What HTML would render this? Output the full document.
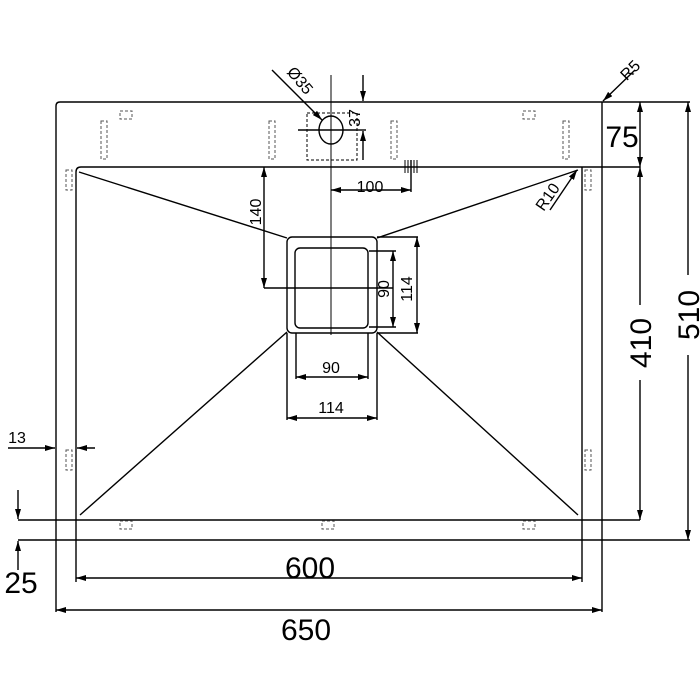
<!DOCTYPE html>
<html><head><style>body{margin:0;background:#fff}svg{display:block}</style></head><body>
<svg width="700" height="700" viewBox="0 0 700 700" xmlns="http://www.w3.org/2000/svg" font-family="Liberation Sans, sans-serif">
<defs>
<marker id="a" viewBox="0 0 10 6" refX="10" refY="3" markerWidth="10" markerHeight="6" orient="auto-start-reverse" markerUnits="userSpaceOnUse"><path d="M0,0L10,3L0,6z" fill="#000"/></marker>
</defs>
<g stroke="#000" fill="none" stroke-width="1.4">
<path d="M56,612V106Q56,102 60,102H690"/>
<line x1="602" y1="102" x2="602" y2="612"/>
<line x1="18" y1="540" x2="690" y2="540"/>
<path d="M76,582V172Q76,167 81,167H640"/>
<line x1="582" y1="167" x2="582" y2="582"/>
<line x1="18" y1="520" x2="640" y2="520"/>
<line x1="79" y1="172" x2="287" y2="238"/>
<line x1="578" y1="170" x2="377" y2="238"/>
<line x1="287" y1="332" x2="80" y2="515"/>
<line x1="377" y1="332" x2="578" y2="515"/>
<rect x="287" y="237" width="90" height="96" rx="5"/>
<rect x="295" y="248" width="73" height="80" rx="5"/>
<line x1="331" y1="75" x2="331" y2="335" stroke-width="1"/>
<line x1="264" y1="167" x2="264" y2="288" marker-start="url(#a)" marker-end="url(#a)"/>
<line x1="264" y1="288" x2="393" y2="288"/>
<line x1="369" y1="251" x2="396" y2="251"/>
<line x1="393" y1="251" x2="393" y2="327" marker-start="url(#a)" marker-end="url(#a)"/>
<line x1="369" y1="327" x2="396" y2="327"/>
<line x1="377" y1="237" x2="418" y2="237"/>
<line x1="417" y1="237" x2="417" y2="333" marker-start="url(#a)" marker-end="url(#a)"/>
<line x1="377" y1="333" x2="418" y2="333"/>
<line x1="296" y1="333" x2="296" y2="379"/><line x1="368" y1="333" x2="368" y2="379"/>
<line x1="296" y1="377" x2="368" y2="377" marker-start="url(#a)" marker-end="url(#a)"/>
<line x1="287" y1="333" x2="287" y2="420"/><line x1="377" y1="333" x2="377" y2="420"/>
<line x1="287" y1="418" x2="377" y2="418" marker-start="url(#a)" marker-end="url(#a)"/>
<line x1="76" y1="578" x2="582" y2="578" marker-start="url(#a)" marker-end="url(#a)"/>
<line x1="56" y1="610" x2="602" y2="610" marker-start="url(#a)" marker-end="url(#a)"/>
<line x1="640" y1="102" x2="640" y2="167" marker-start="url(#a)" marker-end="url(#a)"/>
<line x1="640" y1="167" x2="640" y2="305" marker-start="url(#a)"/>
<line x1="640" y1="380" x2="640" y2="520" marker-end="url(#a)"/>
<line x1="688" y1="102" x2="688" y2="275" marker-start="url(#a)"/>
<line x1="688" y1="355" x2="688" y2="540" marker-end="url(#a)"/>
<line x1="18" y1="490" x2="18" y2="519" marker-end="url(#a)"/>
<line x1="18" y1="570" x2="18" y2="541" marker-end="url(#a)"/>
<line x1="8" y1="448" x2="55" y2="448" marker-end="url(#a)"/>
<line x1="95" y1="448" x2="77" y2="448" marker-end="url(#a)"/>
<ellipse cx="331" cy="130" rx="12" ry="14"/>
<line x1="298" y1="130" x2="357" y2="130"/>
<rect x="307" y="113" width="50" height="47" stroke-dasharray="3,2" stroke-width="1"/>
<line x1="272" y1="70" x2="322" y2="120" marker-end="url(#a)"/>
<line x1="363" y1="75" x2="363" y2="101" marker-end="url(#a)"/>
<line x1="363" y1="160" x2="363" y2="131" marker-end="url(#a)"/>
<line x1="357" y1="130" x2="366" y2="130"/>
<line x1="331" y1="190" x2="411" y2="190" marker-start="url(#a)" marker-end="url(#a)"/>
<line x1="411" y1="160" x2="411" y2="192"/>
<path d="M405,160v13M408,160v13M411,160v13M414,160v13M417,160v13" stroke-width="1"/>
<line x1="635" y1="70" x2="603" y2="101" marker-end="url(#a)"/>
<line x1="550" y1="210" x2="577" y2="170" marker-end="url(#a)"/>
<g stroke-dasharray="3,2" stroke-width="1" stroke="#555">
<rect x="101" y="121" width="6" height="38"/><rect x="269" y="121" width="6" height="38"/>
<rect x="391" y="121" width="6" height="38"/><rect x="563" y="121" width="6" height="38"/>
<rect x="120" y="111" width="12" height="8"/><rect x="523" y="111" width="12" height="8"/>
<rect x="66" y="170" width="6" height="20"/><rect x="585" y="170" width="6" height="20"/>
<rect x="66" y="450" width="6" height="20"/><rect x="585" y="450" width="6" height="20"/>
<rect x="120" y="521" width="12" height="8"/><rect x="322" y="521" width="12" height="8"/><rect x="523" y="521" width="12" height="8"/>
</g>
</g>
<g fill="#000">
<text x="310" y="578" font-size="30" text-anchor="middle">600</text>
<text x="306" y="640" font-size="30" text-anchor="middle">650</text>
<text x="622" y="147" font-size="30" text-anchor="middle">75</text>
<text font-size="30" text-anchor="middle" transform="translate(651,343) rotate(-90)">410</text>
<text font-size="30" text-anchor="middle" transform="translate(699,315) rotate(-90)">510</text>
<text x="21" y="593" font-size="30" text-anchor="middle">25</text>
<text x="17" y="443" font-size="16" text-anchor="middle">13</text>
<text x="370" y="192" font-size="16" text-anchor="middle">100</text>
<text x="331" y="373" font-size="16" text-anchor="middle">90</text>
<text x="331" y="413" font-size="16" text-anchor="middle">114</text>
<text font-size="16" text-anchor="middle" transform="translate(261,212) rotate(-90)">140</text>
<text font-size="16" text-anchor="middle" transform="translate(389,289) rotate(-90)">90</text>
<text font-size="16" text-anchor="middle" transform="translate(412,289) rotate(-90)">114</text>
<text font-size="16" text-anchor="middle" transform="translate(360,118) rotate(-90)">37</text>
<text font-size="16" text-anchor="middle" transform="translate(296,84) rotate(50)">Ø35</text>
<text font-size="16" text-anchor="middle" transform="translate(634,74) rotate(-45)">R5</text>
<text font-size="16" text-anchor="middle" transform="translate(552,200) rotate(-55)">R10</text>
</g>
</svg>
</body></html>
